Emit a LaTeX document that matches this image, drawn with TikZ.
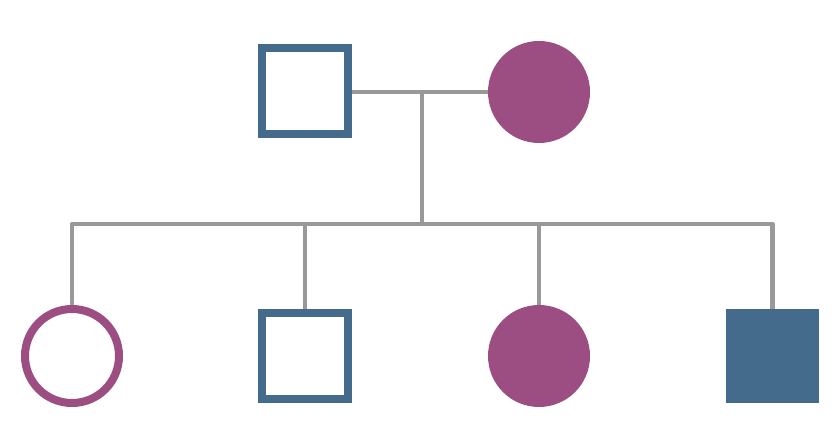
\documentclass[tikz,border=0pt]{standalone}
\usepackage{tikz}
\usetikzlibrary{calc,positioning}
\definecolor{steelblue}{RGB}{68,106,140}
\definecolor{plum}{RGB}{156,77,130}
\definecolor{linegray}{RGB}{153,153,153}
\tikzset{
  male/.style={
    rectangle,
    draw=steelblue,
    line width=8pt,
    fill=white,
    minimum size=86pt,
    inner sep=0pt
  },
  female/.style={
    circle,
    draw=plum,
    line width=8pt,
    fill=white,
    minimum size=94pt,
    inner sep=0pt
  },
  malefull/.style={
    rectangle,
    fill=steelblue,
    minimum size=93pt,
    inner sep=0pt
  },
  femalefull/.style={
    circle,
    fill=plum,
    minimum size=102pt,
    inner sep=0pt
  },
  link/.style={
    draw=linegray,
    line width=4.5pt,
    line join=round
  }
}
\begin{document}
\begin{tikzpicture}[x=1pt,y=-1pt]
\useasboundingbox[fill=white] (0,0) rectangle (840,427);
% parents
\node[male] (father) at (305,91.5) {};
\node[femalefull] (mother) at (539,92) {};
\coordinate (mid) at (422,92);
\coordinate (sib) at (422,224);
% children
\node[female] (c1) at (72,356) {};
\node[male] (c2) at (305,356) {};
\node[femalefull] (c3) at (539,356) {};
\node[malefull] (c4) at (772.5,356) {};
\draw[link] (father.east |- mid) -- (mother.west |- mid);
\draw[link] (mid) -- (sib);
\draw[link] (c1.north) -- (c1.north |- sib) -- (c4.north |- sib) -- (c4.north);
\draw[link] (c2.north) -- (c2.north |- sib);
\draw[link] (c3.north) -- (c3.north |- sib);
\end{tikzpicture}
\end{document}
